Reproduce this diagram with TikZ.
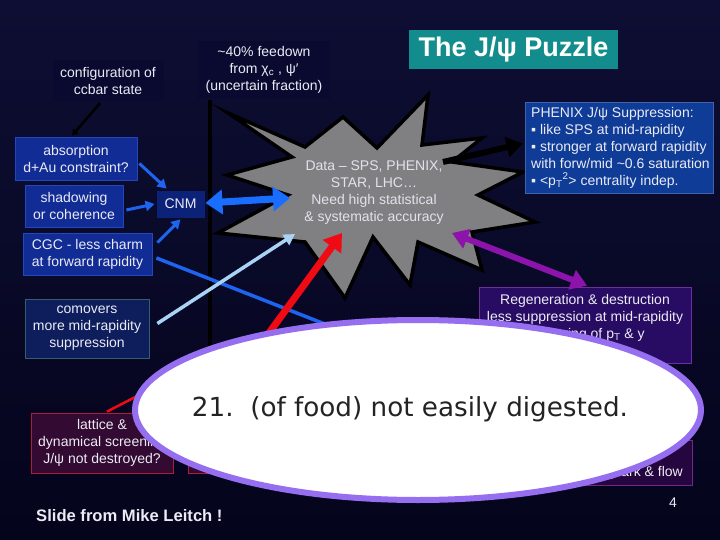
\documentclass[tikz,border=0pt]{standalone}
\usepackage{fontspec}
\usepackage{graphicx}
\setmainfont{Liberation Sans}
\newfontfamily\dejavu{DejaVu Sans}
\usetikzlibrary{arrows.meta,calc}
\definecolor{bgtop}{RGB}{14,14,52}
\definecolor{bgmid}{RGB}{0,0,118}
\definecolor{bgbot}{RGB}{4,4,28}
\definecolor{textw}{RGB}{235,235,245}
\definecolor{teal}{RGB}{18,140,140}
\definecolor{darkbox}{RGB}{10,10,48}
\definecolor{bluebox}{RGB}{18,44,150}
\definecolor{blueborder}{RGB}{34,70,190}
\definecolor{cnmbox}{RGB}{12,34,120}
\definecolor{comofill}{RGB}{14,30,92}
\definecolor{comoborder}{RGB}{50,95,105}
\definecolor{phenixbox}{RGB}{14,60,150}
\definecolor{regenfill}{RGB}{40,12,100}
\definecolor{regenborder}{RGB}{110,45,160}
\definecolor{latfill}{RGB}{50,10,50}
\definecolor{latborder}{RGB}{175,30,55}
\definecolor{flowfill}{RGB}{38,6,62}
\definecolor{flowborder}{RGB}{115,40,135}
\definecolor{arrowblue}{RGB}{30,100,240}
\definecolor{bigblue}{RGB}{25,110,255}
\definecolor{lightblue}{RGB}{170,210,245}
\definecolor{arrowred}{RGB}{240,10,20}
\definecolor{arrowpurple}{RGB}{140,20,170}
\definecolor{starfill}{RGB}{128,128,130}
\definecolor{ellborder}{RGB}{150,110,240}
\definecolor{ghtext}{RGB}{35,35,35}
\begin{document}
\begin{tikzpicture}[x=1pt,y=-1pt,
  txt/.style={text=textw, font=\fontsize{14}{17}\selectfont, align=center, inner sep=0pt},
  box/.style={txt, draw, line width=0.8pt},
  thinarrow/.style={arrowblue, line width=3pt, -{Triangle[length=9pt,width=10pt]}},
  bigarrow/.style={line width=7pt}
]
\useasboundingbox (0,0) rectangle (720,540);
\fill[top color=bgtop, middle color=bgmid, bottom color=bgbot] (0,0) rectangle (720,540);

% title
\node[fill=teal, minimum width=209pt, minimum height=39pt, inner sep=0pt, text=white,
      font=\fontsize{27}{30}\selectfont\bfseries] (title) at (513.5,49.5) {The J/ψ Puzzle};

% top boxes
\node[txt, fill=darkbox, minimum width=111pt, minimum height=42pt] (config) at (108,81)
  {configuration of\\ccbar state};
\node[txt, fill=darkbox, minimum width=132pt, minimum height=58pt] (feed) at (264,70)
  {\textasciitilde 40\% feedown\\from χ\textsubscript{c} , ψ′\\(uncertain fraction)};

% vertical separator
\coordinate (vtop) at (210,100);
\coordinate (vbot) at (210,430);
\draw[black, line width=3.5pt] (vtop) -- (vbot);

% CNM group
\node[box, fill=bluebox, draw=blueborder, minimum width=122pt, minimum height=43pt] (absorb) at (76,158.5)
  {absorption\\d+Au constraint?};
\node[box, fill=bluebox, draw=blueborder, minimum width=98pt, minimum height=42pt] (shadow) at (74,206)
  {shadowing\\or coherence};
\node[box, fill=cnmbox, draw=cnmbox, minimum width=47pt, minimum height=26pt] (cnm) at (180.5,204) {CNM};
\node[box, fill=bluebox, draw=blueborder, minimum width=129pt, minimum height=42pt] (cgc) at (87.5,254)
  {CGC - less charm\\at forward rapidity};
\node[box, fill=comofill, draw=comoborder, minimum width=124pt, minimum height=59pt] (como) at (87,328.5)
  {comovers\\more mid-rapidity\\suppression};

\draw[black, line width=2.5pt, -{Triangle[length=6pt,width=7pt]}] ($(config.south)+(-8,1)$) -- ($(absorb.north)+(-4,-1)$);

% star
\path[draw=black, line width=3.5pt, fill=starfill, line join=miter, miter limit=20]
  (228,113) -- (305,147) -- (343,117) -- (377,148) -- (428,95) -- (422,145) -- (482,138)
  -- (452,162) -- (523,172) -- (478,195) -- (535,222) -- (472,232) -- (482,270)
  -- (418,242) -- (410,285) -- (373,237) -- (345,298) -- (305,242) -- (218,233)
  -- (288,195) -- (227,175) -- (292,157) -- cycle;
\node[txt, text=textw!92!gray] (data) at (374,193)
  {Data – SPS, PHENIX,\\STAR, LHC…\\Need high statistical\\\& systematic accuracy};

\coordinate (sBlue) at (290,198);
\coordinate (sLight) at (295,234);
\coordinate (sRed) at (342,233);
\coordinate (sPurple) at (452,233);
\coordinate (sBlack) at (443,162);

% PHENIX box
\node[draw=phenixbox!80!white, fill=phenixbox, line width=0.8pt, minimum width=188pt, minimum height=91pt, inner sep=0pt] (phenix) at (619,147.5) {};
\node[txt, align=left, anchor=west] (phenixtxt) at (531,147.5)
  {PHENIX J/ψ Suppression:\\▪ like SPS at mid-rapidity\\▪ stronger at forward rapidity\\with forw/mid \textasciitilde 0.6 saturation\\▪ <p\textsubscript{T}\textsuperscript{2}> centrality indep.};

% Regeneration box
\node[box, fill=regenfill, draw=regenborder, minimum width=212pt, minimum height=76pt] (regen) at (585,325)
  {Regeneration \& destruction\\less suppression at mid-rapidity\\narrowing of p\textsubscript{T} \& y\\\mbox{}};

% lattice box and hidden box
\node[box, fill=latfill, draw=latborder, minimum width=142pt, minimum height=60pt] (lattice) at (102,443)
  {lattice \&\\dynamical screening\\J/ψ not destroyed?};
\node[box, fill=latfill, draw=latborder, minimum width=142pt, minimum height=60pt] (deconf) at (259,443) {};
\node[box, fill=flowfill, draw=flowborder, minimum width=132pt, minimum height=45pt] (flowbox) at (626,462.5) {};
\node[txt, anchor=east] (flowtxt) at (683,473) {quark \& flow};

% connectors
\draw[thinarrow] ($(absorb.east)+(2,5)$) -- ($(cnm.north west)+(10,-2)$);
\draw[thinarrow] ($(shadow.east)+(3,4)$) -- ($(cnm.west)+(-2,0)$);
\draw[thinarrow] ($(cgc.north east)+(5,10)$) -- ($(cnm.south)+(0,2)$);
\coordinate (cgcend) at (335,328);
\draw[arrowblue, line width=3.5pt] ($(cgc.east)+(4,4)$) -- (cgcend);
\draw[lightblue, line width=3.5pt, -{Triangle[length=11pt,width=12pt]}] ($(como.east)+(8,-5)$) -- (sLight);
\draw[bigblue, bigarrow, {Triangle[length=17pt,width=24pt]}-{Triangle[length=17pt,width=24pt]}] ($(cnm.east)+(1,-1)$) -- (sBlue);
\draw[black, line width=6pt, -{Triangle[length=16pt,width=20pt]}] (sBlack) -- ($(phenix.west)+(-2,-4)$);
\draw[arrowpurple, line width=6pt, {Triangle[length=16pt,width=20pt]}-{Triangle[length=16pt,width=20pt]}] (sPurple) -- ($(regen.north)+(2,-1)$);
\draw[arrowred, line width=7pt, -{Triangle[length=17pt,width=22pt]}] ($(deconf.north west)+(24,-1)$) -- (sRed);
\draw[arrowred, line width=2.5pt] ($(lattice.north)+(5,-1)$) -- (145,392);

% ellipse overlay
\draw[draw=ellborder, line width=6pt, fill=white] (418,410) ellipse [x radius=283, y radius=90];
\node[inner sep=0pt, text=ghtext] (ghost) at (410,409)
  {\resizebox{436pt}{!}{\dejavu 21.\ \ (of food) not easily digested.}};

% footer
\node[inner sep=0pt, text=textw, font=\fontsize{16.6}{18}\selectfont\bfseries, anchor=west] (credit) at (36,516)
  {Slide from Mike Leitch !};
\node[txt] (pagenum) at (673,503) {4};
\end{tikzpicture}
\end{document}
